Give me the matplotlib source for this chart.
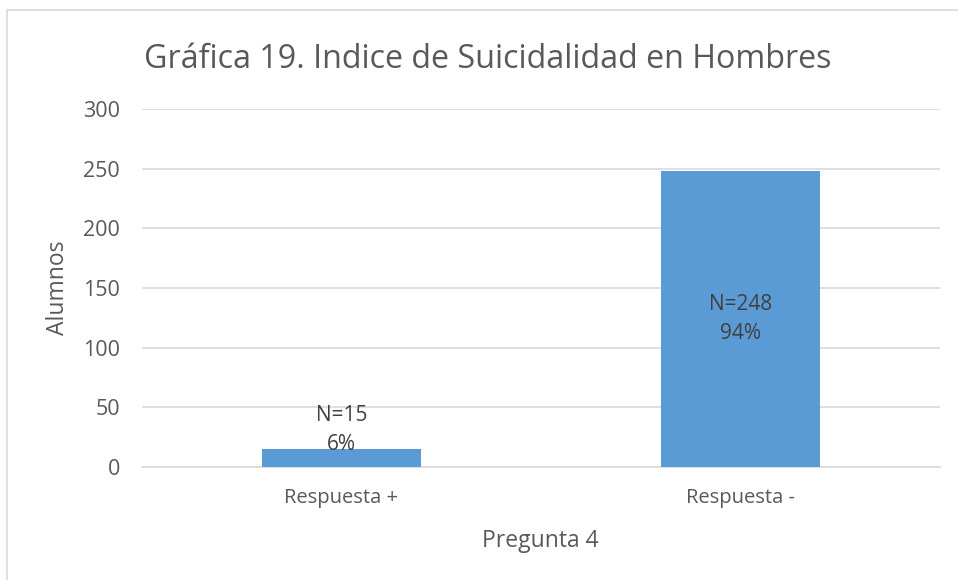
import matplotlib
matplotlib.use("Agg")
import matplotlib.pyplot as plt
from matplotlib.patches import Rectangle

categories = ["Respuesta +", "Respuesta -"]
values = [15, 248]
labels = ["N=15\n6%", "N=248\n94%"]
yticks = [0, 50, 100, 150, 200, 250, 300]

plt.rcParams['font.family'] = ['Open Sans', 'DejaVu Sans']
txt = '#595959'
lab_col = '#404040'
W, H = 958, 580
fig = plt.figure(figsize=(W/100, H/100), dpi=100)
fig.patches.append(Rectangle((7/W, -0.1), 1.1, (H-10)/H + 0.1, transform=fig.transFigure,
                             fill=False, edgecolor='#D9D9D9', linewidth=1.2))
ax = fig.add_axes([142/W, 1-467/H, (940-142)/W, (467-109)/H])
x = list(range(len(categories)))
ax.bar(x, values, width=0.4, color='#5B9BD5', zorder=3)
ax.set_xlim(-0.5, 1.5)
ax.set_ylim(0, 300)
ax.set_yticks(yticks)
ax.yaxis.grid(True, color='#D9D9D9', linewidth=1.2, zorder=0)
for s in ['top', 'right', 'left']:
    ax.spines[s].set_visible(False)
ax.spines['bottom'].set_color('#D9D9D9')
ax.spines['bottom'].set_linewidth(1.2)
ax.tick_params(length=0, colors=txt)
ax.tick_params(axis='y', labelsize=15.5, pad=16)
ax.tick_params(axis='x', labelsize=14.5, pad=15)
ax.set_xticks(x)
ax.set_xticklabels(categories)
for xi, v, lab in zip(x, values, labels):
    if v > 100:
        ax.text(xi, v/2, lab, ha='center', va='center', fontsize=15, color=lab_col,
                linespacing=1.5, zorder=4)
    else:
        ax.annotate(lab, (xi, v), xytext=(0, -4), textcoords='offset points',
                    ha='center', va='bottom', fontsize=15, color=lab_col,
                    linespacing=1.5, zorder=4)
fig.text(58/W, 1-288/H, "Alumnos", rotation=90, ha='center', va='center',
         fontsize=16.5, color=txt)
fig.text(540/W, 1-547/H, "Pregunta 4", ha='center', va='baseline',
         fontsize=16.5, color=txt)
fig.text(488/W, 1-68/H, "Gráfica 19. Indice de Suicidalidad en Hombres",
         ha='center', va='baseline', fontsize=23.2, color=txt)
fig.savefig("out.png", dpi=100)
